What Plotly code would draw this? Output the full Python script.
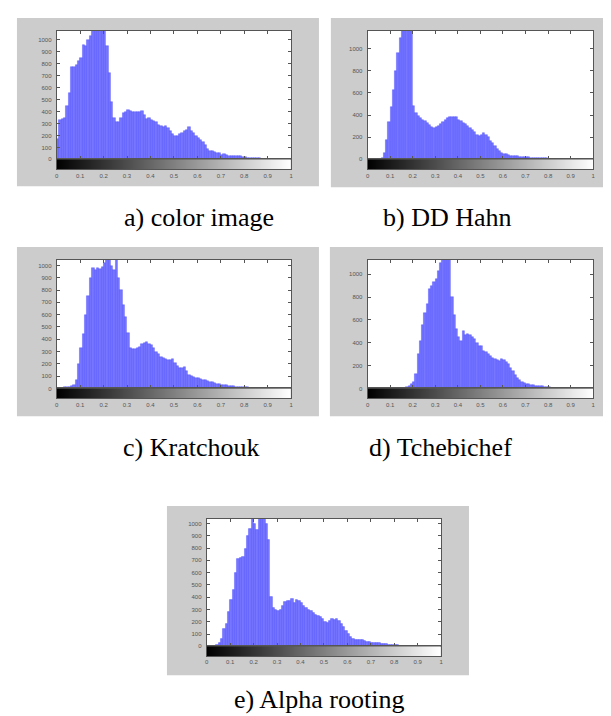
import plotly.graph_objects as go

W, H = 611, 716

# ---- data (histogram counts per 0.01-wide intensity bin) ----
intensity = [round(0.005 + 0.01 * i, 3) for i in range(100)]

hist_color_image = [170, 330, 340, 350, 450, 560, 770, 770, 790, 820,
                    850, 960, 950, 1000, 1030, 1100, 1150, 1150, 1150, 1150,
                    1080, 950, 720, 480, 350, 310, 310, 350, 385, 400,
                    410, 405, 395, 400, 400, 395, 405, 370, 340, 345,
                    330, 320, 315, 290, 280, 270, 280, 265, 240, 215,
                    200, 200, 210, 225, 240, 245, 270, 235, 220, 200,
                    180, 160, 150, 120, 90, 75, 70, 60, 55, 50,
                    40, 45, 40, 30, 30, 30, 25, 25, 25, 20,
                    20, 15, 15, 12, 12, 10, 10, 8, 8, 6,
                    6, 5, 5, 3, 2, 1, 1, 0, 0, 0]

hist_dd_hahn = [0, 0, 1, 2, 3, 5, 15, 60, 180, 340,
                470, 630, 800, 960, 1100, 1250, 1300, 1300, 1300, 1250,
                480, 420, 390, 370, 360, 350, 330, 310, 290, 280,
                290, 300, 320, 340, 360, 375, 385, 380, 380, 385,
                360, 345, 330, 320, 300, 280, 265, 250, 220, 210,
                225, 235, 225, 200, 170, 145, 120, 95, 75, 60,
                50, 45, 40, 35, 32, 30, 28, 25, 22, 20,
                20, 18, 16, 15, 14, 12, 12, 10, 10, 9,
                8, 7, 6, 6, 5, 5, 5, 4, 3, 3,
                3, 2, 2, 1, 1, 1, 0, 0, 0, 0]

hist_kratchouk = [2, 3, 5, 8, 10, 15, 20, 30, 70, 200,
                  330, 440, 600, 750, 900, 980, 960, 980, 970, 990,
                  1020, 1100, 1100, 1000, 960, 1100, 900, 800, 680, 580,
                  450, 330, 320, 320, 330, 340, 360, 370, 375, 360,
                  350, 330, 300, 280, 260, 250, 240, 230, 230, 240,
                  210, 180, 170, 170, 175, 140, 110, 100, 90, 85,
                  85, 75, 70, 65, 60, 55, 50, 45, 40, 35,
                  30, 28, 25, 22, 20, 18, 15, 14, 12, 10,
                  9, 8, 7, 6, 5, 4, 3, 3, 2, 1,
                  1, 0, 0, 0, 0, 0, 0, 0, 0, 0]

hist_tchebichef = [0, 0, 0, 0, 0, 0, 0, 0, 0, 0,
                   0, 0, 0, 1, 2, 3, 5, 10, 20, 35,
                   60, 130, 300, 420, 560, 660, 740, 870, 900, 930,
                   960, 1030, 1100, 1200, 1250, 1250, 1200, 800, 640, 520,
                   450, 420, 500, 470, 475, 470, 450, 430, 400, 370,
                   370, 330, 320, 300, 280, 270, 260, 250, 240, 255,
                   250, 230, 210, 180, 150, 120, 95, 70, 55, 45,
                   40, 35, 30, 28, 25, 22, 20, 18, 15, 12,
                   10, 8, 7, 6, 5, 4, 3, 3, 2, 2,
                   1, 0, 0, 0, 0, 0, 0, 0, 0, 0]

hist_alpha_rooting = [2, 3, 3, 5, 8, 30, 60, 140, 180, 280,
                      380, 460, 600, 710, 720, 730, 790, 900, 960, 1100,
                      1000, 950, 1100, 1100, 1100, 1000, 870, 400, 310, 300,
                      290, 300, 330, 360, 370, 370, 390, 350, 375, 370,
                      350, 330, 315, 300, 290, 270, 260, 250, 240, 220,
                      200, 195, 210, 220, 215, 220, 210, 180, 160, 130,
                      100, 80, 60, 50, 50, 52, 55, 45, 40, 35,
                      30, 28, 28, 25, 22, 20, 18, 15, 12, 10,
                      9, 8, 7, 6, 5, 4, 3, 3, 2, 2,
                      1, 0, 0, 0, 0, 0, 0, 0, 0, 0]

captions = ["a) color image", "b) DD Hahn", "c) Kratchouk", "d) Tchebichef", "e) Alpha rooting"]
y_max = [1075, 1160, 1045, 1125, 1038]
y_ticks_100 = [0, 100, 200, 300, 400, 500, 600, 700, 800, 900, 1000]
y_ticks_200 = [0, 200, 400, 600, 800, 1000]
x_tickvals = [0, 0.1, 0.2, 0.3, 0.4, 0.5, 0.6, 0.7, 0.8, 0.9, 1]
x_ticktext = ["0", "0.1", "0.2", "0.3", "0.4", "0.5", "0.6", "0.7", "0.8", "0.9", "1"]
gray_levels = list(range(256))
gray_x = [(g + 0.5) / 256 for g in gray_levels]

series = [hist_color_image, hist_dd_hahn, hist_kratchouk, hist_tchebichef, hist_alpha_rooting]
y_ticks = [y_ticks_100, y_ticks_200, y_ticks_100, y_ticks_200, y_ticks_100]

# ---- layout geometry (pixels) ----
panels = [
    dict(px=(47, 283), top=23, zero=152, cb=162, box=(7, 311, 10, 179), cap=(190, 210)),
    dict(px=(360, 587), top=23, zero=152, cb=162, box=(323, 611, 10, 180), cap=(440, 210)),
    dict(px=(47, 283), top=253, zero=382, cb=392, box=(7, 311, 240, 410), cap=(182, 441)),
    dict(px=(360, 587), top=253, zero=382, cb=392, box=(322, 611, 240, 410), cap=(433, 441)),
    dict(px=(198, 434), top=513, zero=641, cb=651, box=(158, 462, 500, 670), cap=(311, 694)),
]

def fx(px):
    return px / W

def fy(py):
    return 1 - py / H

AX_COLOR = "#555555"
TICK_FONT = dict(family="Liberation Sans, Arial, sans-serif", size=6, color="#555555")

fig = go.Figure()
layout = dict(width=W, height=H, margin=dict(l=0, r=0, t=0, b=0),
              paper_bgcolor="white", plot_bgcolor="rgba(0,0,0,0)",
              showlegend=False, bargap=0)
shapes = []
annotations = []

for i, (p, vals, ticks, ymax, cap) in enumerate(zip(panels, series, y_ticks, y_max, captions)):
    hx = 2 * i + 1
    cx = 2 * i + 2
    hname = "" if hx == 1 else str(hx)
    cname = str(cx)
    xdom = [fx(p["px"][0]), fx(p["px"][1])]

    b = p["box"]
    shapes.append(dict(type="rect", xref="paper", yref="paper", layer="below",
                       x0=fx(b[0]), x1=fx(b[1]), y0=fy(b[3]), y1=fy(b[2]),
                       fillcolor="#cccccc", line=dict(width=0)))
    shapes.append(dict(type="rect", xref="paper", yref="paper", layer="below",
                       x0=xdom[0], x1=xdom[1], y0=fy(p["zero"]), y1=fy(p["top"]),
                       fillcolor="white", line=dict(width=0)))

    fig.add_trace(go.Bar(x=intensity, y=vals, width=0.01,
                         marker=dict(color="rgb(118,118,255)",
                                     line=dict(width=0.5, color="rgba(30,30,255,0.55)")),
                         xaxis="x" + hname, yaxis="y" + hname, hoverinfo="skip"))
    fig.add_trace(go.Heatmap(z=[gray_levels], x=gray_x, y=[0.5],
                             colorscale=[[0, "black"], [1, "white"]],
                             zmin=0, zmax=255, showscale=False,
                             xaxis="x" + cname, yaxis="y" + cname, hoverinfo="skip"))

    layout["xaxis" + hname] = dict(domain=xdom, range=[0, 1], anchor="y" + hname,
                                   tickvals=x_tickvals, showticklabels=False,
                                   ticks="inside", ticklen=3, tickcolor=AX_COLOR,
                                   showline=True, linecolor=AX_COLOR, linewidth=1,
                                   mirror="ticks", showgrid=False, zeroline=False)
    layout["yaxis" + hname] = dict(domain=[fy(p["zero"]), fy(p["top"])], range=[0, ymax],
                                   anchor="x" + hname, tickvals=ticks,
                                   ticks="inside", ticklen=3, tickcolor=AX_COLOR,
                                   tickfont=TICK_FONT, ticklabelstandoff=3,
                                   showline=True, linecolor=AX_COLOR, linewidth=1,
                                   mirror="ticks", showgrid=False, zeroline=False)
    layout["xaxis" + cname] = dict(domain=xdom, range=[0, 1], anchor="y" + cname,
                                   tickvals=x_tickvals, ticktext=x_ticktext,
                                   tickfont=TICK_FONT, ticks="",
                                   showline=True, linecolor=AX_COLOR, linewidth=1,
                                   mirror=True, showgrid=False, zeroline=False)
    layout["yaxis" + cname] = dict(domain=[fy(p["cb"]), fy(p["zero"])], range=[0, 1],
                                   anchor="x" + cname, showticklabels=False, ticks="",
                                   showline=True, linecolor=AX_COLOR, linewidth=1,
                                   mirror=True, showgrid=False, zeroline=False)

    annotations.append(dict(text=cap, xref="paper", yref="paper",
                            x=fx(p["cap"][0]), y=fy(p["cap"][1]),
                            xanchor="center", yanchor="middle", showarrow=False,
                            font=dict(family="Liberation Serif, Times New Roman, serif",
                                      size=26, color="black")))

layout["shapes"] = shapes
layout["annotations"] = annotations
fig.update_layout(**layout)
fig.write_html("out.html")
